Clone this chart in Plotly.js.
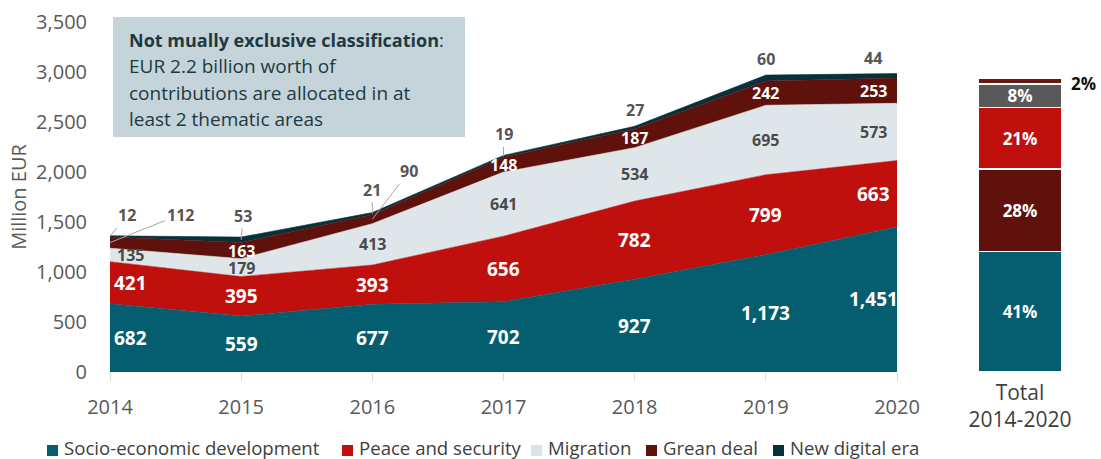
<!DOCTYPE html>
<html>
<head>
<meta charset="utf-8">
<script src="https://cdn.plot.ly/plotly-3.0.1.min.js"></script>
<style>html,body{margin:0;padding:0;background:#fff}</style>
</head>
<body>
<div id="chart" style="width:1101px;height:459px"></div>
<script>
// Contributions by thematic area, million EUR
const years = [2014, 2015, 2016, 2017, 2018, 2019, 2020];
const socioEconomic = [682, 559, 677, 702, 927, 1173, 1451];
const peaceSecurity = [421, 395, 393, 656, 782, 799, 663];
const migration = [135, 179, 413, 641, 534, 695, 573];
const greenDeal = [112, 163, 90, 148, 187, 242, 253];
const digitalEra = [12, 53, 21, 19, 27, 60, 44];
const seriesNames = ['Socio-economic development', 'Peace and security', 'Migration', 'Grean deal', 'New digital era'];

// Share of the 2014-2020 total, per cent (bottom to top)
const totalCategory = ['Total<br>2014-2020'];
const totalShares = [41, 28, 21, 8, 2];

const yTicks = [0, 500, 1000, 1500, 2000, 2500, 3000, 3500];

const FONT = '"Open Sans", "Noto Sans", sans-serif';
const W = 1101, H = 459;
const areaColors = ['#055d70', '#c0100d', '#dfe6ea', '#5f110b', '#07313b'];
const shareColors = ['#055d70', '#5f110b', '#c0100d', '#595959', '#6a1510'];
const series = [socioEconomic, peaceSecurity, migration, greenDeal, digitalEra];

const traces = series.map((vals, i) => ({
  type: 'scatter',
  mode: 'lines',
  x: years,
  y: vals,
  name: seriesNames[i],
  stackgroup: 'areas',
  fillcolor: areaColors[i],
  line: {color: areaColors[i], width: 0.6},
  showlegend: false,
  hoverinfo: 'skip'
}));

totalShares.forEach((v, i) => {
  traces.push({
    type: 'bar',
    x: totalCategory,
    y: [v],
    xaxis: 'x2',
    yaxis: 'y2',
    width: 0.6,
    showlegend: false,
    marker: {color: shareColors[i], line: {color: '#ffffff', width: 1.5}},
    text: [v + '%'],
    textposition: i === totalShares.length - 1 ? 'none' : 'inside',
    insidetextanchor: 'middle',
    constraintext: 'none',
    textfont: {family: FONT, size: 17, color: '#ffffff', weight: 'bold'},
    hoverinfo: 'skip'
  });
});

// Value labels inside / above the stacked areas
const annotations = [];
const fmt = v => v.toLocaleString('en-US');
const labelStyle = [
  {size: 19, color: '#ffffff'},
  {size: 19, color: '#ffffff'},
  {size: 16, color: '#4a4a4a'},
  {size: 16, color: '#ffffff'},
  {size: 16, color: '#555555'}
];
const endShift = j => (j === 0 ? 20 : (j === years.length - 1 ? -24 : 0));
// leader-line offsets (pixels) for labels that sit outside their thin band
const leaders = {
  '3-0': [70, -28], '3-2': [37, -48],
  '4-0': [17, -21], '4-1': [2, -24], '4-2': [0, -24], '4-3': [0, -22]
};

years.forEach((yr, j) => {
  let base = 0;
  series.forEach((vals, i) => {
    const v = vals[j];
    const mid = base + v / 2;
    const top = base + v;
    base = top;
    const key = i + '-' + j;
    const font = {family: FONT, size: labelStyle[i].size, color: labelStyle[i].color, weight: 'bold'};
    if (leaders[key]) {
      annotations.push({
        x: yr, y: mid, xref: 'x', yref: 'y', text: fmt(v),
        showarrow: true, arrowhead: 0, arrowwidth: 1, arrowcolor: '#a6a6a6',
        ax: leaders[key][0], ay: leaders[key][1], standoff: 0,
        font: {family: FONT, size: 16, color: '#555555', weight: 'bold'}
      });
    } else if (i === 4) {
      annotations.push({
        x: yr, y: top, xref: 'x', yref: 'y', text: fmt(v), showarrow: false,
        yshift: 16, xshift: endShift(j), font: font
      });
    } else {
      annotations.push({
        x: yr, y: mid, xref: 'x', yref: 'y', text: fmt(v), showarrow: false,
        xshift: endShift(j), font: font
      });
    }
  });
});

// small-share label beside the total bar
annotations.push({
  x: totalCategory[0], y: 100 - totalShares[4] / 2, xref: 'x2', yref: 'y2',
  text: totalShares[4] + '%', showarrow: false, xanchor: 'left', xshift: 49, yshift: -3,
  font: {family: FONT, size: 17, color: '#111111', weight: 'bold'}
});

// note box
const noteLines = [
  '<b>Not mually exclusive classification</b>:',
  'EUR 2.2 billion worth of',
  'contributions are allocated in at',
  'least 2 thematic areas'
];
noteLines.forEach((t, k) => {
  annotations.push({
    xref: 'paper', yref: 'paper', x: 127 / W, y: 1 - (40 + k * 26.3) / H,
    xanchor: 'left', yanchor: 'middle', text: t, showarrow: false, align: 'left',
    font: {family: FONT, size: k === 0 ? 18 : 19, color: '#1c3a42'}
  });
});

const shapes = [{
  type: 'rect', xref: 'paper', yref: 'paper', layer: 'above',
  x0: 113 / W, x1: 465 / W, y0: 1 - 137 / H, y1: 1 - 17 / H,
  fillcolor: '#c5d3da', line: {width: 0}
}];

// legend row along the bottom
const legendSwatchX = [47, 342, 531, 646, 773];
seriesNames.forEach((name, i) => {
  const x0 = legendSwatchX[i];
  shapes.push({
    type: 'rect', xref: 'paper', yref: 'paper',
    x0: x0 / W, x1: (x0 + 11) / W, y0: 1 - 456 / H, y1: 1 - 445 / H,
    fillcolor: i === 2 ? '#dce4e9' : areaColors[i], line: {width: 0}
  });
  annotations.push({
    xref: 'paper', yref: 'paper', x: (x0 + 16) / W, y: 1 - 447 / H,
    xanchor: 'left', yanchor: 'middle', text: name, showarrow: false, borderpad: 0,
    font: {family: FONT, size: 18.6, color: '#404040'}
  });
});

const layout = {
  width: W,
  height: H,
  margin: {l: 0, r: 0, t: 0, b: 0},
  paper_bgcolor: '#ffffff',
  plot_bgcolor: 'rgba(0,0,0,0)',
  font: {family: FONT, color: '#595959'},
  barmode: 'stack',
  showlegend: false,
  xaxis: {
    domain: [110 / W, 897 / W],
    range: [2014, 2020],
    tickvals: years,
    ticktext: years.map(String),
    ticks: 'outside', ticklen: 8, tickcolor: '#d9d9d9',
    ticklabelstandoff: 9,
    showgrid: false, zeroline: false, showline: false,
    tickfont: {family: FONT, size: 20, color: '#595959'}
  },
  yaxis: {
    domain: [(H - 372) / H, (H - 22) / H],
    range: [0, 3500],
    tickvals: yTicks,
    tickformat: ',d',
    ticklabelstandoff: 22,
    showgrid: false, zeroline: false, showline: false,
    tickfont: {family: FONT, size: 20, color: '#595959'},
    title: {text: 'Million EUR', font: {family: FONT, size: 20, color: '#595959'}, standoff: 4}
  },
  xaxis2: {
    domain: [950 / W, 1090 / W],
    range: [-0.5, 0.5],
    type: 'category',
    anchor: 'y2',
    showgrid: false, zeroline: false, showline: false, ticks: '',
    ticklabelstandoff: 6,
    tickfont: {family: FONT, size: 21, color: '#404040'}
  },
  yaxis2: {
    domain: [(H - 372) / H, (H - 22) / H],
    range: [0, 100 * 350 / 294],
    anchor: 'x2',
    visible: false
  },
  shapes: shapes,
  annotations: annotations
};

Plotly.newPlot('chart', traces, layout, {displayModeBar: false, staticPlot: true});
</script>
</body>
</html>
